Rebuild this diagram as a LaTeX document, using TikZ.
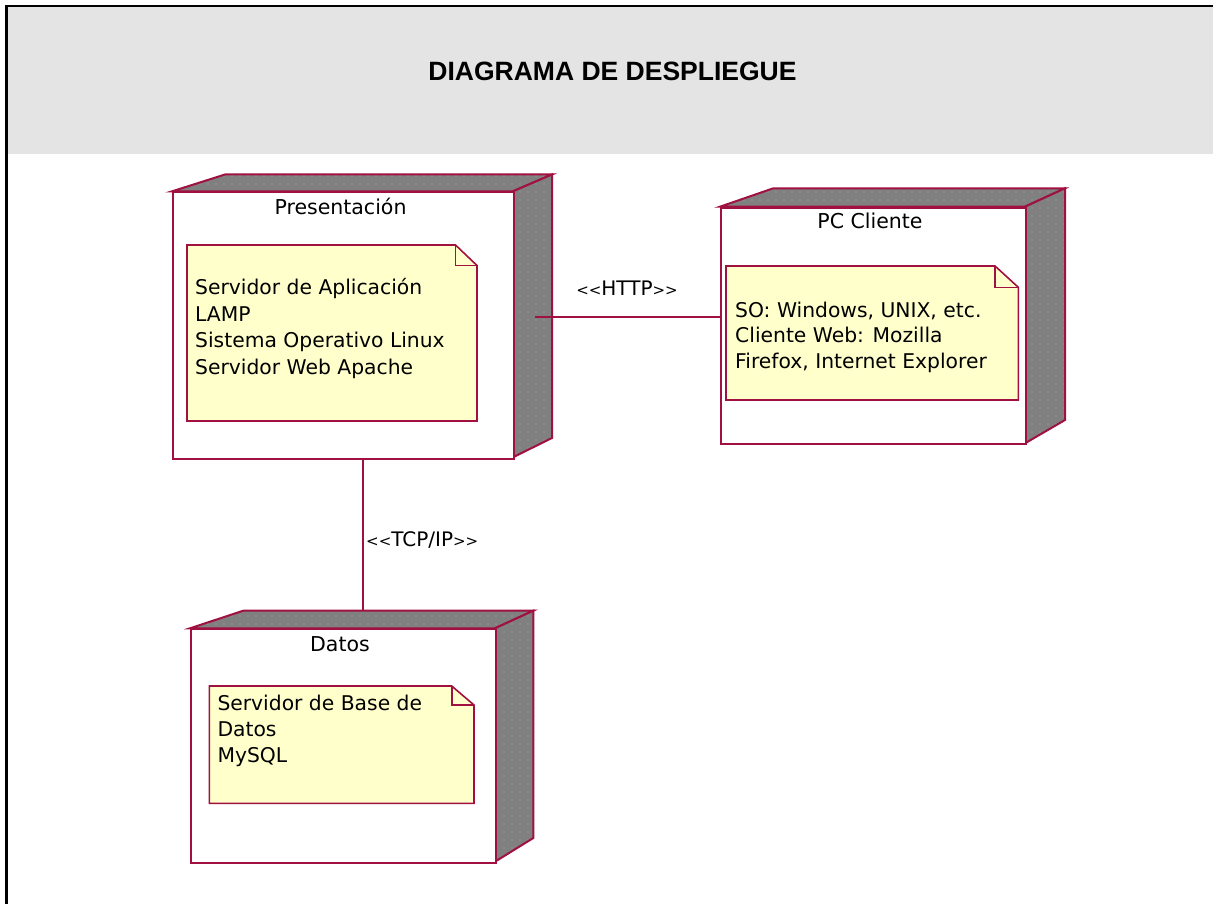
\documentclass[tikz,border=0pt]{standalone}
\usepackage{fontspec}
\usetikzlibrary{patterns.meta}
\setmainfont{DejaVu Sans}
\newfontfamily\titlefont{Liberation Sans}
\definecolor{rose}{RGB}{160,16,64}
\definecolor{sidegray}{RGB}{128,128,128}
\definecolor{dotgray}{RGB}{175,175,175}
\definecolor{notefill}{RGB}{255,255,204}
\definecolor{band}{RGB}{228,228,228}
\newcommand\smallang[1]{{\fontsize{15}{15}\selectfont#1}}
\tikzset{
  front/.style={draw=rose, line width=2pt, fill=white, rectangle, anchor=north west, inner sep=0pt},
  depth/.style={draw=rose, line width=2pt, line join=miter,
    preaction={fill=sidegray},
    preaction={pattern={Dots[distance=8pt,radius=0.6pt]}, pattern color=dotgray}},
  notebox/.style={draw=rose, line width=1.6pt, fill=notefill},
  foldline/.style={draw=rose, line width=1.6pt},
  conn/.style={draw=rose, line width=1.8pt},
  lbl/.style={font=\fontsize{20.5}{24}\selectfont, inner sep=0pt, anchor=base},
  line/.style={font=\fontsize{20.3}{24}\selectfont, inner sep=0pt, anchor=base west},
}
\begin{document}
\begin{tikzpicture}[x=1pt,y=-1pt]
\useasboundingbox (0,0) rectangle (1213,904);
% frame and title band
\fill[band] (7,7) rectangle (1213,154);
\draw[black, line width=2.2pt] (6.5,904) -- (6.5,6) -- (1213,6);
\node[font=\titlefont\bfseries\fontsize{26.5}{30}\selectfont, inner sep=0pt, anchor=base] (title) at (612.5,81) {DIAGRAMA DE DESPLIEGUE};

% ---------- Presentacion ----------
\path[depth] (171.5,191.5) -- (225,174.5) -- (552,174.5) -- (512.5,191.5) -- cycle;
\path[depth] (512.5,191.5) -- (552,174.5) -- (552,438) -- (512.5,457.5) -- cycle;
\node[front, minimum width=341pt, minimum height=266pt] (pres) at (171.5,191.5) {};
\node[lbl] (presl) at (340.5,214.3) {Presentación};
\path[notebox] (187,245) -- (455.5,245) -- (477,265.5) -- (477,421) -- (187,421) -- cycle;
\draw[foldline] (455.5,245) -- (455.5,265.5) -- (477,265.5);
\node[line] (pn1) at (195,294.3) {Servidor de Aplicación};
\node[line] (pn2) at (195,321) {LAMP};
\node[line] (pn3) at (195,347.7) {Sistema Operativo Linux};
\node[line] (pn4) at (195,374.3) {Servidor Web Apache};

% ---------- PC Cliente ----------
\path[depth] (720,206.7) -- (773.3,188.3) -- (1065,188.3) -- (1025,206.7) -- cycle;
\path[depth] (1025,206.7) -- (1065,188.3) -- (1065,420) -- (1025,443.3) -- cycle;
\node[front, minimum width=305pt, minimum height=236.6pt] (pc) at (720,206.7) {};
\node[lbl] (pcl) at (870,228.3) {PC Cliente};
\path[notebox] (726,266) -- (995,266) -- (1018.3,287.3) -- (1018.3,400) -- (726,400) -- cycle;
\draw[foldline] (995,266) -- (995,287.3) -- (1018.3,287.3);
\node[line] (cn1) at (735,317.3) {SO: Windows, UNIX, etc.};
\node[line] (cn2) at (735,342.8) {Cliente Web: Mozilla};
\node[line] (cn3) at (735,368.3) {Firefox, Internet Explorer};

% ---------- Datos ----------
\path[depth] (190,628.3) -- (243.3,610.7) -- (533.3,610.7) -- (495,628.3) -- cycle;
\path[depth] (495,628.3) -- (533.3,610.7) -- (533.3,838) -- (495,861.7) -- cycle;
\node[front, minimum width=305pt, minimum height=233.4pt] (datos) at (190,628.3) {};
\node[lbl] (datosl) at (340,651.7) {Datos};
\path[notebox] (209.3,686) -- (451.7,686) -- (474,705) -- (474,803.3) -- (209.3,803.3) -- cycle;
\draw[foldline] (451.7,686) -- (451.7,705) -- (474,705);
\node[line] (dn1) at (217.3,710) {Servidor de Base de};
\node[line] (dn2) at (217.3,736) {Datos};
\node[line] (dn3) at (217.3,762.3) {MySQL};

% ---------- connectors ----------
\coordinate (httpA) at (535,317);
\draw[conn] (httpA) -- (pc.west |- httpA);
\node[font=\fontsize{20}{24}\selectfont, inner sep=0pt, anchor=base] (httpl) at (627,295) {\smallang{<{}<}HTTP\smallang{>{}>}};
\coordinate (tcpB) at (362.7,611);
\draw[conn] (pres.south -| tcpB) -- (tcpB);
\node[font=\fontsize{20}{24}\selectfont, inner sep=0pt, anchor=base west] (tcpl) at (366,546.7) {\smallang{<{}<}TCP/IP\smallang{>{}>}};
\end{tikzpicture}
\end{document}
